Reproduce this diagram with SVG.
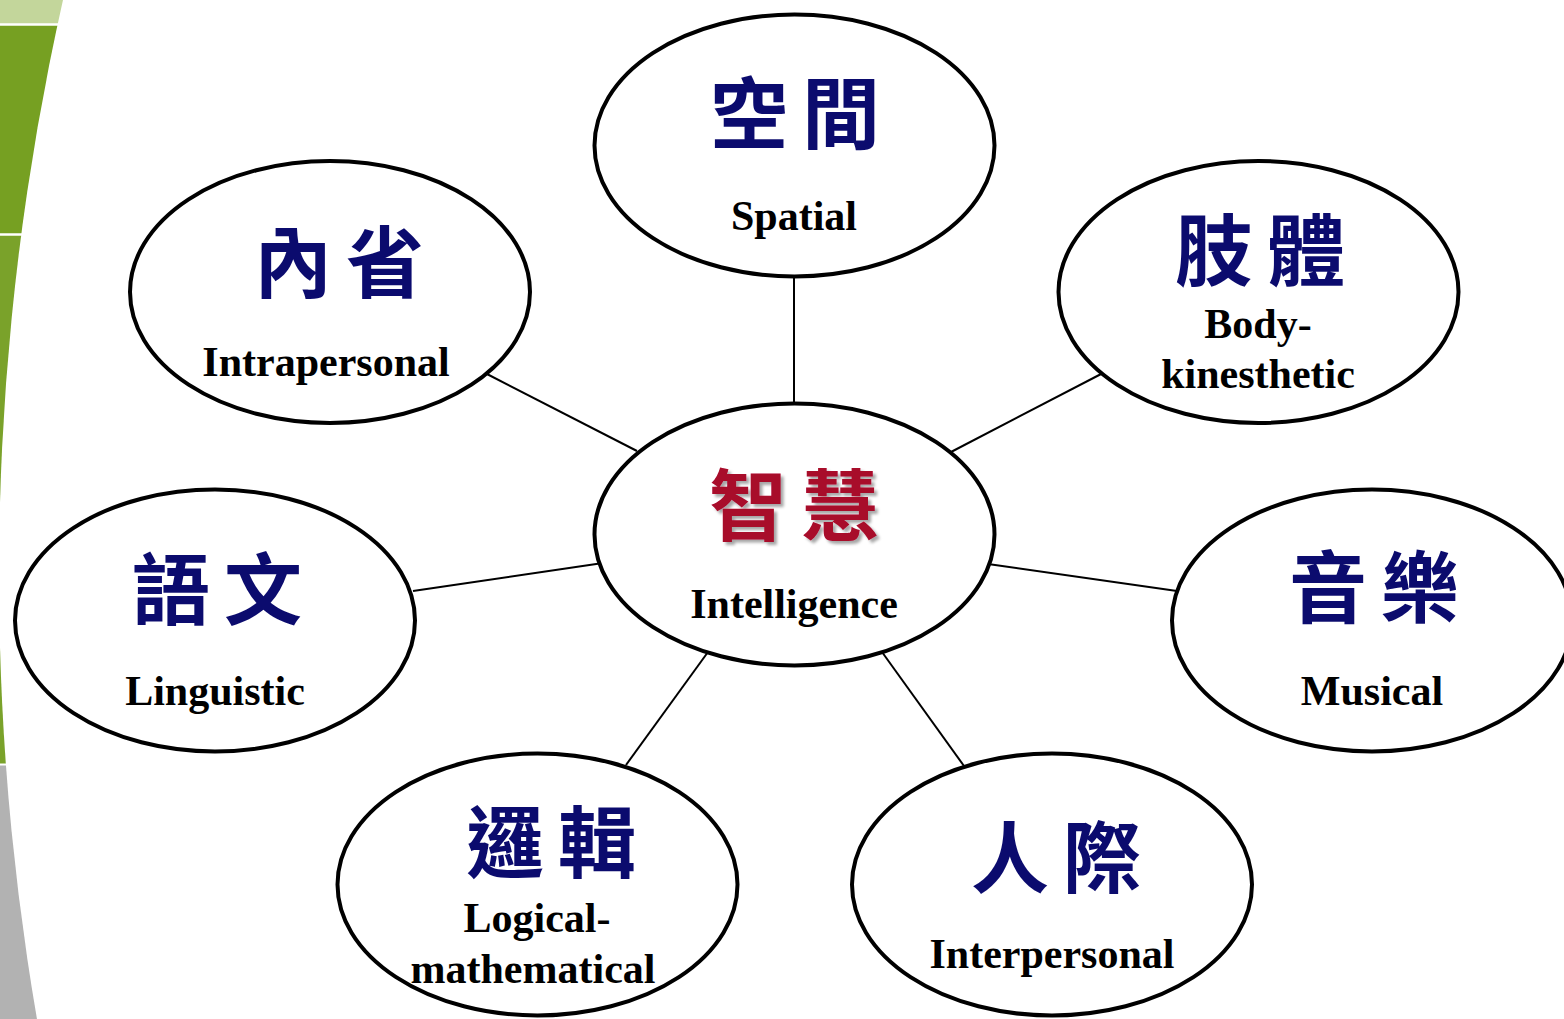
<svg xmlns="http://www.w3.org/2000/svg" width="1564" height="1019" viewBox="0 0 1564 1019">
<style>
.node{fill:#fff;stroke:#000;stroke-width:4}
.conn line{stroke:#000;stroke-width:2}
.zh{font-family:"Noto Sans CJK TC","Noto Sans CJK SC",sans-serif;font-weight:700;font-size:78px;fill:#0b0b6e;text-anchor:middle;letter-spacing:14px}
.en{font-family:"Liberation Serif","Times New Roman",serif;font-weight:700;font-size:42px;fill:#000;text-anchor:middle}
.red{fill:#a8082a}
</style>
<defs>
<filter id="sh" x="-20%" y="-20%" width="140%" height="140%">
<feDropShadow dx="3" dy="3" stdDeviation="1.5" flood-color="#000" flood-opacity="0.35"/>
</filter>
</defs>
<rect width="1564" height="1019" fill="#fff"/>
<g id="side-bands">
<rect x="0" y="0" width="80" height="24" fill="#c3d69b"/>
<rect x="0" y="24" width="80" height="211" fill="#76a022"/>
<rect x="0" y="235" width="80" height="530" fill="#7aa22a"/>
<rect x="0" y="765" width="80" height="254" fill="#b2b2b2"/>
<line x1="0" y1="24.5" x2="80" y2="24.5" stroke="#fff" stroke-width="2.5"/>
<line x1="0" y1="234.5" x2="80" y2="234.5" stroke="#fff" stroke-width="2.5"/>
<line x1="0" y1="764.5" x2="80" y2="764.5" stroke="#fff" stroke-width="2"/>
<circle cx="2614" cy="575" r="2615" fill="#fff"/>
</g>
<g id="connectors" class="conn">
<line x1="794" y1="278" x2="794" y2="403"/>
<line x1="485" y1="373" x2="637" y2="451"/>
<line x1="1103" y1="373" x2="951" y2="452"/>
<line x1="413" y1="591" x2="603" y2="563"/>
<line x1="988" y1="564" x2="1177" y2="591"/>
<line x1="626" y1="765" x2="708" y2="652"/>
<line x1="882" y1="652" x2="964" y2="766"/>
</g>
<g id="spatial">
<ellipse class="node" cx="794.5" cy="145.5" rx="200" ry="131"/>
<text class="zh" x="802" y="143">空間</text>
<text class="en" x="794" y="230">Spatial</text>
</g>
<g id="intrapersonal">
<ellipse class="node" cx="330" cy="292" rx="200" ry="131"/>
<text class="zh" x="346" y="292">內省</text>
<text class="en" x="326" y="376">Intrapersonal</text>
</g>
<g id="body-kinesthetic">
<ellipse class="node" cx="1258.5" cy="292" rx="200" ry="131"/>
<text class="zh" x="1267" y="280">肢體</text>
<text class="en" x="1258" y="338">Body-</text>
<text class="en" x="1258" y="388">kinesthetic</text>
</g>
<g id="intelligence">
<ellipse class="node" cx="794.5" cy="534.5" rx="200" ry="131"/>
<text class="zh red" x="801" y="535" filter="url(#sh)">智慧</text>
<text class="en" x="794" y="618">Intelligence</text>
</g>
<g id="linguistic">
<ellipse class="node" cx="215" cy="620.5" rx="200" ry="131"/>
<text class="zh" x="224" y="619">語文</text>
<text class="en" x="215" y="705">Linguistic</text>
</g>
<g id="musical">
<ellipse class="node" cx="1372" cy="620.5" rx="200" ry="131"/>
<text class="zh" x="1381" y="617">音樂</text>
<text class="en" x="1372" y="705">Musical</text>
</g>
<g id="logical-mathematical">
<ellipse class="node" cx="537.5" cy="884.5" rx="200" ry="131"/>
<text class="zh" x="558" y="872">邏輯</text>
<text class="en" x="537" y="932">Logical-</text>
<text class="en" x="533" y="983">mathematical</text>
</g>
<g id="interpersonal">
<ellipse class="node" cx="1052" cy="884.5" rx="200" ry="131"/>
<text class="zh" x="1063" y="887">人際</text>
<text class="en" x="1052" y="968">Interpersonal</text>
</g>
</svg>
